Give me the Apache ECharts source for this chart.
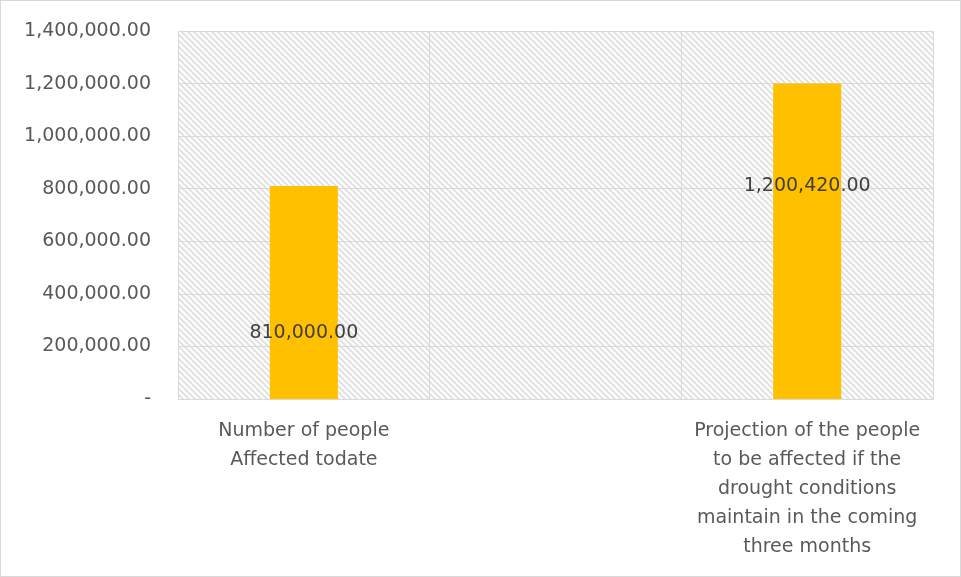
<!DOCTYPE html>
<html>
<head>
<meta charset="utf-8">
<script src="https://cdn.jsdelivr.net/npm/echarts@6/dist/echarts.min.js"></script>
<style>
  html, body { margin: 0; padding: 0; background: #fff; }
  #chart { width: 959px; height: 575px; border: 1px solid #d9d9d9; }
</style>
</head>
<body>
<div id="chart"></div>
<script>
// Categories (the middle slot is intentionally blank)
const categories = [
  'Number of people\nAffected todate',
  '',
  'Projection of the people\nto be affected if the\ndrought conditions\nmaintain in the coming\nthree months'
];
// People counts
const values = [810000, null, 1200420];
// Distance of each value label below its bar's top edge, in px
const labelDrop = [147, 103];
// Value axis range
const axisMax = 1400000;
const axisStep = 200000;

// Diagonal hatch used as the plot-area fill
function hatch() {
  const c = document.createElement('canvas');
  const s = 6;
  c.width = s; c.height = s;
  const g = c.getContext('2d');
  g.strokeStyle = '#e2e2e2';
  g.lineWidth = 2;
  g.beginPath();
  g.moveTo(-1, -1); g.lineTo(s + 1, s + 1);
  g.moveTo(-2, s - 2); g.lineTo(2, s + 2);
  g.moveTo(s - 2, -2); g.lineTo(s + 2, 2);
  g.stroke();
  return c;
}

const fmt = v => v === 0 ? '-' : v.toLocaleString('en-US', { minimumFractionDigits: 2, maximumFractionDigits: 2 });

const font = 'DejaVu Sans';
const chart = echarts.init(document.getElementById('chart'));
let li = 0;
const seriesData = values.map(v => {
  if (v == null) return '-';
  const d = labelDrop[li++];
  return { value: v, label: { position: ['50%', d] } };
});

chart.setOption({
  animation: false,
  grid: {
    left: 177, right: 27, top: 30, bottom: 177,
    show: true,
    backgroundColor: { image: hatch(), repeat: 'repeat' },
    borderWidth: 0
  },
  xAxis: {
    type: 'category',
    data: categories,
    axisLine: { lineStyle: { color: '#d9d9d9', width: 1 } },
    axisTick: { show: false },
    splitLine: { show: true, lineStyle: { color: '#d9d9d9', width: 1 } },
    axisLabel: {
      color: '#595959', fontFamily: font, fontSize: 19,
      lineHeight: 29, margin: 18, interval: 0
    }
  },
  yAxis: {
    type: 'value',
    min: 0, max: axisMax, interval: axisStep,
    axisLine: { show: false },
    axisTick: { show: false },
    splitLine: { lineStyle: { color: '#d9d9d9', width: 1 } },
    axisLabel: {
      color: '#595959', fontFamily: font, fontSize: 19, margin: 27,
      formatter: fmt
    }
  },
  series: [{
    type: 'bar',
    data: seriesData,
    barWidth: 68,
    itemStyle: { color: '#ffc000' },
    label: {
      show: true,
      align: 'center',
      verticalAlign: 'middle',
      color: '#404040',
      fontFamily: font,
      fontSize: 19,
      formatter: p => fmt(p.value)
    }
  }]
});
</script>
</body>
</html>
